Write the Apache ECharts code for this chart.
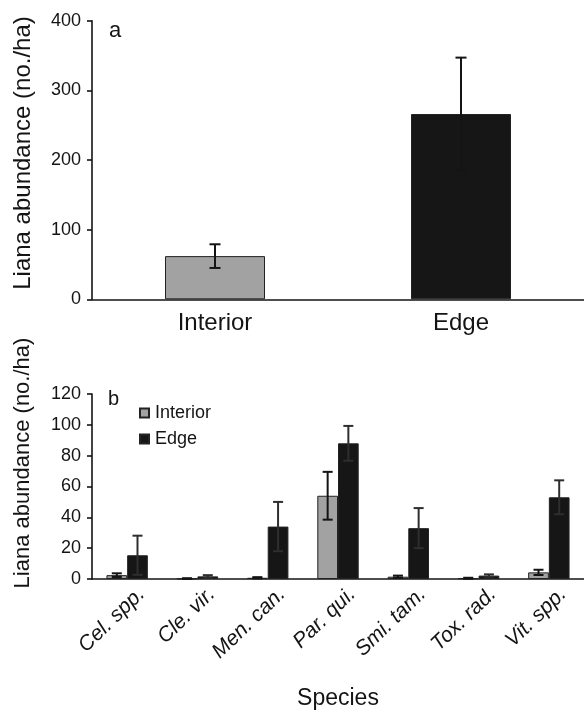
<!DOCTYPE html>
<html><head><meta charset="utf-8">
<script src="https://cdn.jsdelivr.net/npm/echarts@6/dist/echarts.min.js"></script>
<style>html,body{margin:0;padding:0;background:#fff}#c{width:584px;height:711px}</style>
</head><body><div id="c"></div>
<script>
// Panel a
const panelACategories = ['Interior', 'Edge'];
const panelAMeans = [62, 266];
const panelAErrors = [17, 81];
// Panel b
const species = ['Cel. spp.', 'Cle. vir.', 'Men. can.', 'Par. qui.', 'Smi. tam.', 'Tox. rad.', 'Vit. spp.'];
const interiorMeans = [2.5, 0.3, 0.8, 54, 1.5, 0.5, 4.3];
const interiorErrors = [1.2, 0.2, 0.4, 15.5, 0.7, 0.3, 1.7];
const edgeMeans = [15.4, 1.7, 34, 88, 33, 2.2, 53];
const edgeErrors = [12.7, 0.8, 16, 11.3, 13, 0.8, 11];
const seriesNames = ['Interior', 'Edge'];
const yTitle = 'Liana abundance (no./ha)';
const xTitleB = 'Species';

const FONT = '"Liberation Sans", Arial, Helvetica, sans-serif';
const GRAY = '#a2a2a2';
const DARK = '#161616';
const INK = '#141414';
const BAR_B = 20.7;

function errData(means, errs) {
  return means.map((m, i) => [i, Math.max(0, m - errs[i]), m + errs[i]]);
}
function errorBar(offset, cap, width, stroke) {
  return function (params, api) {
    const x = api.value(0);
    const lo = api.coord([x, api.value(1)]);
    const hi = api.coord([x, api.value(2)]);
    const cx = lo[0] + offset;
    const style = { stroke: stroke, lineWidth: width };
    return { type: 'group', children: [
      { type: 'line', shape: { x1: cx, y1: lo[1], x2: cx, y2: hi[1] }, style: style },
      { type: 'line', shape: { x1: cx - cap, y1: lo[1], x2: cx + cap, y2: lo[1] }, style: style },
      { type: 'line', shape: { x1: cx - cap, y1: hi[1], x2: cx + cap, y2: hi[1] }, style: style }
    ] };
  };
}
const axisLineStyle = { color: INK, width: 1.6 };

const chart = echarts.init(document.getElementById('c'));
chart.setOption({
  animation: false,
  backgroundColor: '#fff',
  textStyle: { fontFamily: FONT },
  grid: [
    { left: 92, right: 0, top: 20.7, height: 278.6, containLabel: false, outerBoundsMode: 'none' },
    { left: 92, right: 0, top: 394, height: 185, containLabel: false, outerBoundsMode: 'none' }
  ],
  legend: {
    orient: 'vertical', left: 134, top: 399, itemWidth: 9, itemHeight: 9, itemGap: 8,
    icon: 'rect', data: seriesNames,
    textStyle: { fontSize: 18, color: INK, fontFamily: FONT, padding: [0, 0, 0, 1] }
  },
  xAxis: [
    { type: 'category', gridIndex: 0, data: panelACategories,
      axisLine: { lineStyle: axisLineStyle },
      axisTick: { length: 6, lineStyle: axisLineStyle },
      axisLabel: { fontSize: 24, color: INK, margin: 12, fontFamily: FONT } },
    { type: 'category', gridIndex: 1, data: species,
      axisLine: { lineStyle: axisLineStyle },
      axisTick: { length: 6, lineStyle: axisLineStyle },
      axisLabel: { fontSize: 21, color: INK, rotate: 44, fontStyle: 'italic', margin: 26,
        padding: [0, -20, 0, 0], fontFamily: FONT },
      name: xTitleB, nameLocation: 'middle', nameGap: 108,
      nameTextStyle: { fontSize: 23, color: INK, fontFamily: FONT } }
  ],
  yAxis: [
    { type: 'value', gridIndex: 0, min: 0, max: 400, interval: 100,
      axisLine: { show: true, lineStyle: axisLineStyle },
      axisTick: { show: true, length: 5, lineStyle: axisLineStyle },
      splitLine: { show: false },
      axisLabel: { fontSize: 18, color: INK, margin: 11, fontFamily: FONT } },
    { type: 'value', gridIndex: 1, min: 0, max: 120, interval: 20,
      axisLine: { show: true, lineStyle: axisLineStyle },
      axisTick: { show: true, length: 5, lineStyle: axisLineStyle },
      splitLine: { show: false },
      axisLabel: { fontSize: 18, color: INK, margin: 11, fontFamily: FONT } }
  ],
  graphic: [
    { type: 'text', left: 109, top: 20, style: { text: 'a', fill: INK, font: '22px ' + FONT } },
    { type: 'text', left: 108, top: 389, style: { text: 'b', fill: INK, font: '20px ' + FONT } },
    { type: 'text', x: 23, y: 153, rotation: Math.PI / 2,
      style: { text: yTitle, font: '24px ' + FONT, fill: INK, textAlign: 'center', textVerticalAlign: 'middle' } },
    { type: 'text', x: 23, y: 463, rotation: Math.PI / 2,
      style: { text: yTitle, font: '22px ' + FONT, fill: INK, textAlign: 'center', textVerticalAlign: 'middle' } }
  ],
  series: [
    { type: 'bar', xAxisIndex: 0, yAxisIndex: 0, barWidth: 100,
      data: panelAMeans.map((v, i) => ({ value: v, itemStyle: { color: i === 0 ? GRAY : DARK } })),
      itemStyle: { borderColor: '#222', borderWidth: 1 } },
    { type: 'custom', xAxisIndex: 0, yAxisIndex: 0, z: 5,
      renderItem: errorBar(0, 5.5, 2, INK), data: errData(panelAMeans, panelAErrors) },
    { name: seriesNames[0], type: 'bar', xAxisIndex: 1, yAxisIndex: 1, barWidth: BAR_B, barGap: '0%',
      data: interiorMeans, itemStyle: { color: GRAY, borderColor: '#222', borderWidth: 1 } },
    { name: seriesNames[1], type: 'bar', xAxisIndex: 1, yAxisIndex: 1, barWidth: BAR_B, barGap: '0%',
      data: edgeMeans, itemStyle: { color: DARK, borderColor: '#222', borderWidth: 1 } },
    { type: 'custom', xAxisIndex: 1, yAxisIndex: 1, z: 5,
      renderItem: errorBar(-BAR_B / 2, 5, 2, INK), data: errData(interiorMeans, interiorErrors) },
    { type: 'custom', xAxisIndex: 1, yAxisIndex: 1, z: 5,
      renderItem: errorBar(BAR_B / 2, 5, 2, '#2e2e2e'), data: errData(edgeMeans, edgeErrors) }
  ]
});
</script></body></html>
